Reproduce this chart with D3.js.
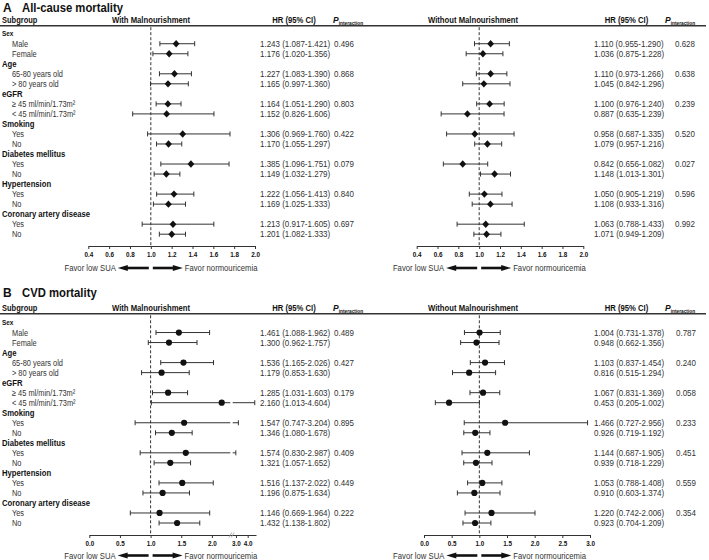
<!DOCTYPE html>
<html><head><meta charset="utf-8">
<script src="https://cdn.jsdelivr.net/npm/d3@7"></script>
<style>
body{margin:0;background:#fff}
svg{display:block}
text{font-family:"Liberation Sans",Arial,Helvetica,sans-serif}
</style>
</head><body>
<svg id="chart" width="709" height="560"></svg>
<script>
// ---------------- DATA ----------------
const groups = ["Sex","Age","eGFR","Smoking","Diabetes mellitus","Hypertension","Coronary artery disease"];
const levels = ["Male","Female","65-80 years old","> 80 years old","≥ 45 ml/min/1.73m²","< 45 ml/min/1.73m²","Yes","No","Yes","No","Yes","No","Yes","No"];

// A: All-cause mortality, with malnourishment
const hrAWith = [1.243,1.176,1.227,1.165,1.164,1.152,1.306,1.170,1.385,1.149,1.222,1.169,1.213,1.201];
const loAWith = [1.087,1.020,1.083,0.997,1.051,0.826,0.969,1.055,1.096,1.032,1.056,1.025,0.917,1.082];
const hiAWith = [1.421,1.356,1.390,1.360,1.290,1.606,1.760,1.297,1.751,1.279,1.413,1.333,1.605,1.333];
const pAWith = [0.496,0.868,0.803,0.422,0.079,0.840,0.697];
// A: without malnourishment
const hrAWithout = [1.110,1.036,1.110,1.045,1.100,0.887,0.958,1.079,0.842,1.148,1.050,1.108,1.063,1.071];
const loAWithout = [0.955,0.875,0.973,0.842,0.976,0.635,0.687,0.957,0.656,1.013,0.905,0.933,0.788,0.949];
const hiAWithout = [1.290,1.228,1.266,1.296,1.240,1.239,1.335,1.216,1.082,1.301,1.219,1.316,1.433,1.209];
const pAWithout = [0.628,0.638,0.239,0.520,0.027,0.596,0.992];
// B: CVD mortality, with malnourishment
const hrBWith = [1.461,1.300,1.536,1.179,1.285,2.160,1.547,1.346,1.574,1.321,1.516,1.196,1.146,1.432];
const loBWith = [1.088,0.962,1.165,0.853,1.031,1.013,0.747,1.080,0.830,1.057,1.137,0.875,0.669,1.138];
const hiBWith = [1.962,1.757,2.026,1.630,1.603,4.604,3.204,1.678,2.987,1.652,2.022,1.634,1.964,1.802];
const pBWith = [0.489,0.427,0.179,0.895,0.409,0.449,0.222];
// B: without malnourishment
const hrBWithout = [1.004,0.948,1.103,0.816,1.067,0.453,1.466,0.926,1.144,0.939,1.053,0.910,1.220,0.923];
const loBWithout = [0.731,0.662,0.837,0.515,0.831,0.205,0.727,0.719,0.687,0.718,0.788,0.603,0.742,0.704];
const hiBWithout = [1.378,1.356,1.454,1.294,1.369,1.002,2.956,1.192,1.905,1.229,1.408,1.374,2.006,1.209];
const pBWithout = [0.787,0.240,0.058,0.233,0.451,0.559,0.354];

const ticksA = [0.4,0.6,0.8,1.0,1.2,1.4,1.6,1.8,2.0];
const ticksBWith = [0.0,0.5,1.0,1.5,2.0,3.0,4.0];
const ticksBWithout = [0.0,0.5,1.0,1.5,2.0,2.5,3.0];

const panelTitles = ["All-cause mortality","CVD mortality"];
const panelLetters = ["A","B"];
const sideTitles = ["With Malnourishment","Without Malnourishment"];
const favorLabels = ["Favor low SUA","Favor normouricemia"];

// ---------------- DRAW ----------------
const svg = d3.select("#chart");
const TXT = "#333", HEAD = "#111", LINE = "#333";
const SY = 1.22; // vertical stretch of glyphs as in the reference
const fmt = d3.format(".3f");
const tickFmt = d3.format(".1f");

function txt(parent, x, y, str, o = {}) {
  const t = parent.append("text")
    .attr("transform", `translate(${x},${y}) scale(1,${o.sy || SY})`)
    .attr("font-size", o.size || 7.4)
    .attr("fill", o.fill || TXT);
  if (o.bold) t.attr("font-weight", "bold");
  if (o.anchor) t.attr("text-anchor", o.anchor);
  if (o.mid) t.attr("dy", "0.35em");
  if (str !== null) t.text(str);
  return t;
}

const panels = [
  {letter:0, y:{title:12.3, header:23.3, line:25.7, row0:33.7, axis:246, favor:271},
   sides:[
     {hr:hrAWith, lo:loAWith, hi:hiAWith, p:pAWith, ticks:ticksA,
      x:d3.scaleLinear().domain([0.4,2.0]).range([88.3,255]), marker:"diamond",
      headX:151, hrX:260, hrHeadX:294, pX:333, pValX:334},
     {hr:hrAWithout, lo:loAWithout, hi:hiAWithout, p:pAWithout, ticks:ticksA,
      x:d3.scaleLinear().domain([0.4,2.0]).range([416.7,583.3]), marker:"diamond",
      headX:473, hrX:594, hrHeadX:626.5, pX:665, pValX:675}
   ]},
  {letter:1, y:{title:297, header:311, line:313.8, row0:322.5, axis:535, favor:558.5},
   sides:[
     {hr:hrBWith, lo:loBWith, hi:hiBWith, p:pBWith, ticks:ticksBWith,
      x:d3.scaleLinear().domain([0,2.3,2.72,4.71]).range([89.3,230.3,232.7,256]),
      brk:[2.3,2.72], marker:"circle",
      headX:151, hrX:260, hrHeadX:294, pX:333, pValX:334},
     {hr:hrBWithout, lo:loBWithout, hi:hiBWithout, p:pBWithout, ticks:ticksBWithout,
      x:d3.scaleLinear().domain([0,3]).range([424,590]), marker:"circle",
      headX:473, hrX:594, hrHeadX:626.5, pX:665, pValX:676}
   ]}
];

panels.forEach(P => {
  const g = svg.append("g");
  const Y = P.y;
  const row = d3.scaleLinear().domain([0,20]).range([Y.row0, Y.row0 + 200.5]);

  // title
  txt(g, 3, Y.title, panelLetters[P.letter], {size:12, bold:true, fill:HEAD, sy:1.05});
  txt(g, 22, Y.title, panelTitles[P.letter], {size:11.3, bold:true, fill:HEAD, sy:1.05});

  // header row
  txt(g, 2, Y.header, "Subgroup", {size:7.5, bold:true, fill:HEAD, sy:1.15});
  P.sides.forEach((S,si) => {
    txt(g, S.headX, Y.header, sideTitles[si], {size:7.7, bold:true, fill:HEAD, anchor:"middle", sy:1.15});
    txt(g, S.hrHeadX, Y.header, "HR (95% CI)", {size:7.7, bold:true, fill:HEAD, anchor:"middle", sy:1.15});
    const pt = txt(g, S.pX, Y.header, null, {size:7.7, bold:true, fill:HEAD, sy:1.15});
    pt.append("tspan").attr("font-size",8.5).attr("font-style","italic").text("P");
    pt.append("tspan").attr("font-size",4.8).attr("dy",1.8).text("interaction");
  });
  g.append("line").attr("x1",0).attr("x2",706).attr("y1",Y.line).attr("y2",Y.line)
    .attr("stroke",LINE).attr("stroke-width",1.4);

  // subgroup labels
  groups.forEach((name,gi) => {
    txt(g, 2, row(gi*3), name, {size: gi === 0 ? 6.4 : 7.7, bold:true, fill:HEAD, mid:true});
  });
  levels.forEach((name,li) => {
    const slot = Math.floor(li/2)*3 + 1 + (li%2);
    txt(g, 12, row(slot), name, {size:7.4, mid:true});
  });

  // sides
  P.sides.forEach((S,si) => {
    const x = S.x;
    const x1 = x(1);
    // dashed reference
    g.append("line").attr("x1",x1).attr("x2",x1).attr("y1",Y.line+1.5).attr("y2",Y.axis)
      .attr("stroke",LINE).attr("stroke-width",1).attr("stroke-dasharray","3,2");

    S.hr.forEach((v,li) => {
      const slot = Math.floor(li/2)*3 + 1 + (li%2);
      const cy = row(slot);
      const lo = S.lo[li], hi = S.hi[li];
      let segs = [[lo,hi]];
      if (S.brk && hi > S.brk[1]) segs = [[lo,S.brk[0]],[S.brk[1],hi]];
      segs.forEach(sg => {
        g.append("line").attr("x1",x(sg[0])).attr("x2",x(sg[1])).attr("y1",cy).attr("y2",cy)
          .attr("stroke",LINE).attr("stroke-width",1);
      });
      [lo,hi].forEach(e => {
        g.append("line").attr("x1",x(e)).attr("x2",x(e)).attr("y1",cy-2.5).attr("y2",cy+2.5)
          .attr("stroke",LINE).attr("stroke-width",1);
      });
      const cx = x(v);
      if (S.marker === "diamond") {
        g.append("path").attr("d",`M${cx},${cy-3.7}L${cx+3.4},${cy}L${cx},${cy+3.7}L${cx-3.4},${cy}Z`)
          .attr("fill","#111");
      } else {
        g.append("circle").attr("cx",cx).attr("cy",cy).attr("r",3.1).attr("fill","#111");
      }
      txt(g, S.hrX, cy, `${fmt(v)} (${fmt(lo)}-${fmt(hi)})`, {size:8, mid:true, sy:1.15});
    });
    S.p.forEach((pv,gi) => {
      txt(g, S.pValX, row(gi*3+1), fmt(pv), {size:8, mid:true, sy:1.15});
    });

    // axis
    const ax = g.append("g").attr("transform",`translate(0,${Y.axis})`)
      .call(d3.axisBottom(x).tickValues(S.ticks).tickFormat(tickFmt).tickSize(3).tickSizeOuter(0).tickPadding(3.5));
    ax.select(".domain").attr("stroke",LINE);
    ax.selectAll(".tick line").attr("stroke",LINE);
    ax.selectAll(".tick text").attr("font-size",6.3).attr("font-weight","bold").attr("fill",HEAD)
      .attr("font-family",'"Liberation Sans",Arial,sans-serif');
    if (S.brk) {
      const bx = (x(S.brk[0]) + x(S.brk[1]))/2;
      [-1.2,1.2].forEach(d => {
        ax.append("line").attr("x1",bx+d-1.5).attr("x2",bx+d+1.5).attr("y1",2.5).attr("y2",-2.5)
          .attr("stroke","#999").attr("stroke-width",0.8);
      });
    }

    // favor arrows
    const fy = Y.favor - 3;
    const fg = g.append("g");
    fg.append("line").attr("x1",x1-2).attr("x2",x1-24).attr("y1",fy).attr("y2",fy)
      .attr("stroke","#111").attr("stroke-width",2.6);
    fg.append("path").attr("d",`M${x1-33},${fy}L${x1-23},${fy-3}L${x1-23},${fy+3}Z`).attr("fill","#111");
    fg.append("line").attr("x1",x1+2).attr("x2",x1+23).attr("y1",fy).attr("y2",fy)
      .attr("stroke","#111").attr("stroke-width",2.6);
    fg.append("path").attr("d",`M${x1+32},${fy}L${x1+22},${fy-3}L${x1+22},${fy+3}Z`).attr("fill","#111");
    txt(fg, x1-35, Y.favor, favorLabels[0], {size:7.7, anchor:"end", sy:1.15});
    txt(fg, x1+34, Y.favor, favorLabels[1], {size:7.7, sy:1.15});
  });
});
</script>
</body></html>
